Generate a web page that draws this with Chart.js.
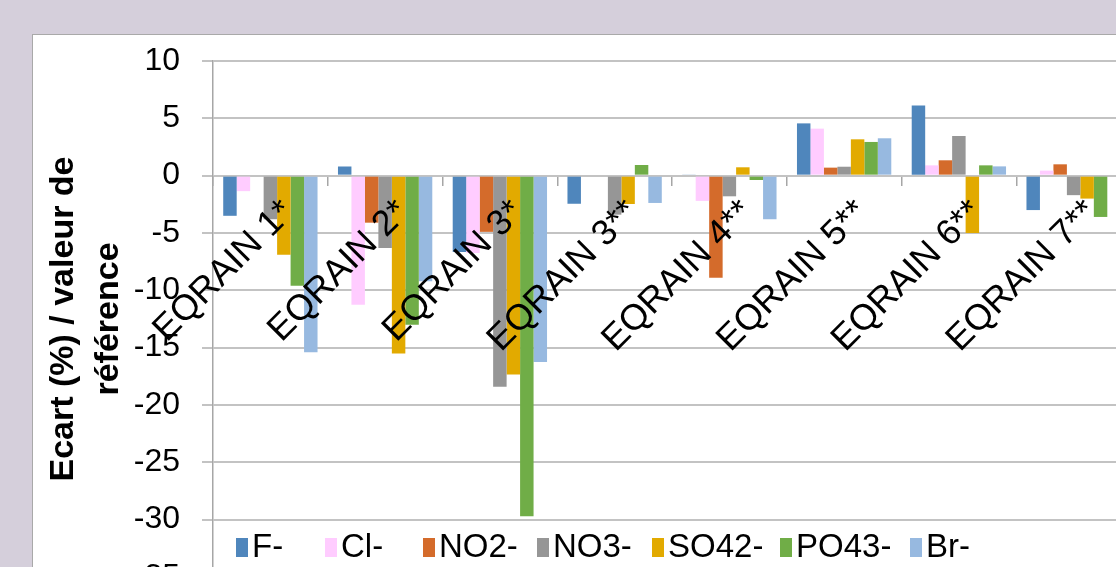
<!DOCTYPE html>
<html>
<head>
<meta charset="utf-8">
<script src="https://cdn.jsdelivr.net/npm/chart.js@4"></script>
<style>
  html, body { margin: 0; padding: 0; overflow: hidden; }
  body { width: 1116px; height: 567px; background: #d5cfdb; position: relative; }
  #box {
    position: absolute; left: 32px; top: 34px;
    width: 1140px; height: 570px;
    background: #ffffff;
    border-top: 1px solid #a9a9a9; border-left: 1px solid #a9a9a9;
  }
</style>
</head>
<body>
<div id="box"><canvas id="barChart" width="1140" height="570"></canvas></div>
<script>
var categories = ['EQRAIN 1*', 'EQRAIN 2*', 'EQRAIN 3*', 'EQRAIN 3**', 'EQRAIN 4**', 'EQRAIN 5**', 'EQRAIN 6**', 'EQRAIN 7**'];
var fluoride  = [-3.5, 0.8, -6.65, -2.45, 0.1, 4.56, 6.13, -3.0];
var chloride  = [-1.35, -11.25, -6.75, null, -2.2, 4.1, 0.9, 0.44];
var nitrite   = [null, -4.1, -4.9, null, -8.9, 0.7, 1.34, 0.99];
var nitrate   = [-3.8, -6.3, -18.4, -3.4, -1.8, 0.78, 3.46, -1.7];
var sulfate   = [-6.9, -15.5, -17.35, -2.47, 0.73, 3.17, -5.0, -2.0];
var phosphate = [-9.6, -13.0, -29.7, 0.93, -0.38, 2.94, 0.9, -3.6];
var bromide   = [-15.4, -9.2, -16.25, -2.38, -3.8, 3.26, 0.81, null];
var yTicks = [10, 5, 0, -5, -10, -15, -20, -25, -30, -35];

var font = 'Liberation Sans, Arial, sans-serif';

// legend drawn inside the plot, along the bottom, like the original
var legendLeft = [203, 292, 390, 504, 619, 747, 877];
var bottomLegend = {
  id: 'bottomLegend',
  afterDraw: function (chart) {
    var ctx = chart.ctx;
    var y = 512;
    ctx.save();
    ctx.font = '33px ' + font;
    ctx.textBaseline = 'middle';
    chart.data.datasets.forEach(function (d, i) {
      var x = legendLeft[i];
      ctx.fillStyle = d.backgroundColor;
      ctx.fillRect(x, y - 9, 12, 19);
      ctx.fillStyle = '#000';
      ctx.fillText(d.label, x + 16, y + 1);
    });
    ctx.restore();
  }
};

new Chart(document.getElementById('barChart'), {
  type: 'bar',
  data: {
    labels: categories,
    datasets: [
      { label: 'F-', data: fluoride, backgroundColor: '#4f86bc' },
      { label: 'Cl-', data: chloride, backgroundColor: '#ffccff' },
      { label: 'NO2-', data: nitrite, backgroundColor: '#d46b2b' },
      { label: 'NO3-', data: nitrate, backgroundColor: '#969696' },
      { label: 'SO42-', data: sulfate, backgroundColor: '#e2aa00' },
      { label: 'PO43-', data: phosphate, backgroundColor: '#70ad47' },
      { label: 'Br-', data: bromide, backgroundColor: '#97b9e0' }
    ]
  },
  options: {
    responsive: false,
    animation: false,
    devicePixelRatio: 1,
    categoryPercentage: 0.822,
    barPercentage: 1,
    layout: { padding: { top: 26, bottom: 28, right: 42, left: 0 } },
    plugins: {
      legend: { display: false },
      tooltip: { enabled: false }
    },
    scales: {
      x: {
        position: { y: 0 },
        grid: { drawOnChartArea: false, drawTicks: true, tickLength: 10, color: '#a6a6a6', lineWidth: 1.5 },
        border: { display: false },
        ticks: {
          z: 1,
          autoSkip: false,
          minRotation: 45,
          maxRotation: 45,
          padding: 6,
          labelOffset: 18,
          color: '#000',
          font: { family: font, size: 36 }
        }
      },
      y: {
        min: -35,
        max: 10,
        afterBuildTicks: function (scale) {
          scale.ticks = yTicks.map(function (v) { return { value: v }; });
        },
        afterFit: function (scale) {
          scale.width = 180;
          scale.paddingTop = 0;
          scale.paddingBottom = 0;
        },
        grid: { color: '#c3c3c3', lineWidth: 2, tickLength: 11 },
        border: { color: '#a6a6a6', width: 1.5 },
        ticks: { color: '#000', padding: 22, font: { family: font, size: 32 } },
        title: {
          display: true,
          text: ['Ecart (%) / valeur de', 'référence'],
          color: '#000',
          padding: { top: 9, bottom: 0 },
          font: { family: font, size: 34, weight: 'bold', lineHeight: 1.3 }
        }
      }
    }
  },
  plugins: [bottomLegend]
});
</script>
</body>
</html>
